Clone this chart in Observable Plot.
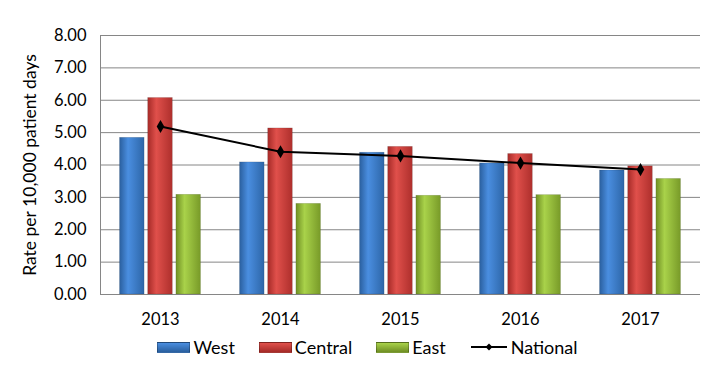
<!DOCTYPE html>
<html>
<head>
<meta charset="utf-8">
<script src="https://cdn.jsdelivr.net/npm/d3@7"></script>
<script src="https://cdn.jsdelivr.net/npm/@observablehq/plot@0.6"></script>
<style>
  body { margin: 0; background: #fff; font-family: Lato, "Open Sans", sans-serif; }
  #chart { width: 723px; }
  .legend { display: flex; justify-content: center; align-items: center; gap: 24px; font-size: 18px; color: #000; margin-top: 6px; padding-left: 12px; }
  .legend .item { display: flex; align-items: center; gap: 3px; }
  .sw { width: 33px; height: 11px; border: 1px solid rgba(0,0,0,0.25); box-sizing: border-box; }
</style>
</head>
<body>
<div id="chart"></div>
<script>
const years = [2013, 2014, 2015, 2016, 2017];
const regions = ["West", "Central", "East"];
const west = [4.84, 4.08, 4.38, 4.05, 3.83];
const central = [6.07, 5.13, 4.56, 4.34, 3.96];
const east = [3.08, 2.80, 3.05, 3.07, 3.57];
const national = [5.19, 4.41, 4.28, 4.06, 3.86];
const yTicks = [0, 1, 2, 3, 4, 5, 6, 7, 8];
const yLabel = "Rate per 10,000 patient days";

const colors = {
  West: ["#2a5f9e", "#4a8ee0", "#2d66a8"],
  Central: ["#a52a27", "#e0504b", "#ae2f2c"],
  East: ["#6f8f24", "#a9d24a", "#789a28"]
};

const seriesVals = {West: west, Central: central, East: east};
const barW = 0.205, step = 0.235;
const bars = [];
regions.forEach((r, k) => {
  years.forEach((y, i) => {
    const c = y + (k - 1) * step;
    bars.push({region: r, year: y, value: seriesVals[r][i], x1: c - barW / 2, x2: c + barW / 2});
  });
});
const line = years.map((y, i) => ({year: y, value: national[i]}));

const plot = Plot.plot({
  width: 723,
  height: 330,
  marginLeft: 100,
  marginRight: 23,
  marginTop: 35,
  marginBottom: 36,
  style: {fontFamily: "Lato, 'Open Sans', sans-serif", fontSize: "16.5px", color: "#000", background: "#fff"},
  x: {domain: [2012.5, 2017.5], label: null},
  y: {domain: [0, 8], label: null},
  marks: [
    Plot.gridY(yTicks, {stroke: "#868686", strokeOpacity: 1, strokeWidth: 1}),
    Plot.ruleX([2012.5], {stroke: "#868686"}),
    Plot.rectY(bars, {x1: "x1", x2: "x2", y1: 0, y2: "value", fill: d => `url(#g${d.region})`, stroke: "rgba(0,0,0,0.18)", strokeWidth: 0.6}),
    Plot.line(line, {x: "year", y: "value", stroke: "#000", strokeWidth: 2}),
    Plot.dot(line, {x: "year", y: "value", symbol: "diamond", r: 4, fill: "#000"}),
    Plot.axisX({ticks: years, tickFormat: "d", tickSize: 0, tickPadding: 19, fontSize: 16.5, label: null}),
    Plot.axisY({ticks: yTicks, tickFormat: d => d.toFixed(2), tickSize: 0, tickPadding: 14, fontSize: 16.5, label: null}),
    Plot.text([yLabel], {frameAnchor: "left", textAnchor: "middle", rotate: -90, dx: -70, dy: 0, fontSize: 17.5, fill: "#000"})
  ]
});

// gradients
const svg = d3.select(plot);
const defs = svg.insert("defs", ":first-child");
for (const r of regions) {
  const g = defs.append("linearGradient").attr("id", "g" + r).attr("x1", "0").attr("x2", "1").attr("y1", "0").attr("y2", "0");
  g.append("stop").attr("offset", "0%").attr("stop-color", colors[r][0]);
  g.append("stop").attr("offset", "35%").attr("stop-color", colors[r][1]);
  g.append("stop").attr("offset", "100%").attr("stop-color", colors[r][2]);
}
document.getElementById("chart").appendChild(plot);

// legend
const leg = document.createElement("div");
leg.className = "legend";
for (const r of regions) {
  const it = document.createElement("div");
  it.className = "item";
  it.innerHTML = `<span class="sw" style="background:linear-gradient(to bottom, ${colors[r][1]}, ${colors[r][0]})"></span><span>${r}</span>`;
  leg.appendChild(it);
}
const nat = document.createElement("div");
nat.className = "item";
nat.innerHTML = `<svg width="38" height="12"><line x1="1" x2="37" y1="6" y2="6" stroke="#000" stroke-width="2"/><path d="M19,2.5 L22.5,6 L19,9.5 L15.5,6 Z" fill="#000"/></svg><span>National</span>`;
leg.appendChild(nat);
document.getElementById("chart").appendChild(leg);
</script>
</body>
</html>
